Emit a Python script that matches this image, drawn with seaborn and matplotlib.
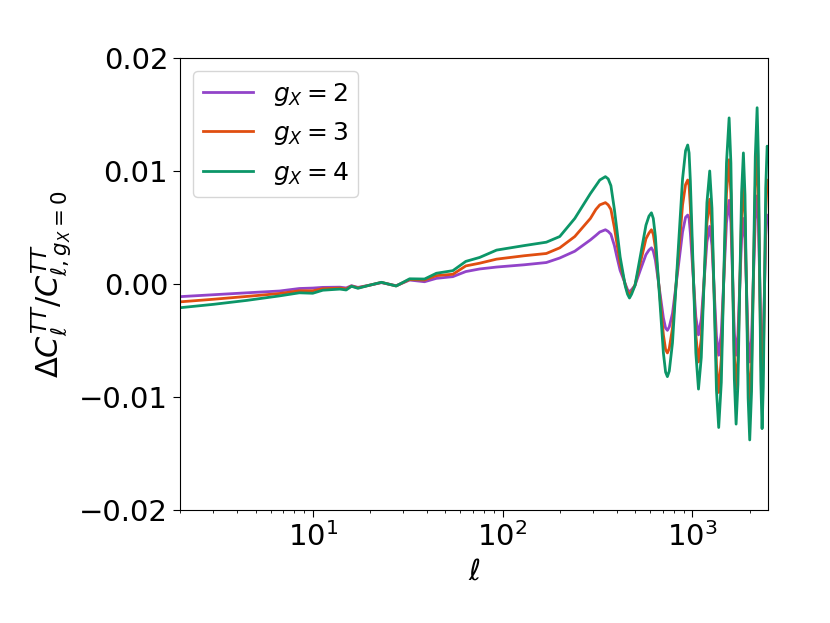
import pandas as pd
import numpy as np
import matplotlib
matplotlib.use("Agg")
import matplotlib.pyplot as plt
import seaborn as sns

# ======================
# Values
# ======================
ell = [2, 3, 4.5, 6.7, 8.5, 10, 11.3, 13.9, 15, 16, 17.3, 20, 23, 27.5, 32.4,
       38.8, 44.8, 54.7, 64, 75.7, 93, 130, 170, 200, 240, 290, 310, 325, 348,
       360, 372, 388, 400, 416, 443, 455, 466, 478, 498, 532, 569, 590, 608,
       622, 638, 670, 703, 722, 738, 755, 785, 835, 887, 920, 944, 960, 975,
       1008, 1042, 1076, 1113, 1152, 1192, 1233, 1267, 1302, 1338, 1375, 1419,
       1464, 1511, 1560, 1594, 1627, 1662, 1698, 1736, 1774, 1815, 1855, 1891,
       1928, 1965, 2003, 2048, 2094, 2143, 2191, 2224, 2258, 2292, 2327, 2361,
       2398, 2432, 2475, 2500]

ratio_g2 = [-0.00112, -0.00095, -0.00078, -0.00062, -0.0004, -0.00036, -0.0003,
            -0.00028, -0.00035, -0.00015, -0.0003, -0.0001, 0.00012, -0.00015,
            0.00035, 0.0002, 0.0005, 0.00065, 0.0011, 0.00133, 0.0015, 0.0017,
            0.0019, 0.0023, 0.0029, 0.0039, 0.0043, 0.0046, 0.0048, 0.00465,
            0.0044, 0.0034, 0.0024, 0.0012, 0.0, -0.0005, -0.0007, -0.0005,
            -0.00013, 0.00125, 0.0026, 0.0030, 0.0032, 0.0029, 0.0021, -0.00045,
            -0.0030, -0.0039, -0.0041, -0.0038, -0.0026, 0.0010, 0.0046, 0.0059,
            0.0061, 0.0058, 0.0045, 0.0008, -0.0029, -0.0045, -0.0031, 0.0003,
            0.0037, 0.0051, 0.0034, -0.0006, -0.0046, -0.0063, -0.0043, 0.00055,
            0.0054, 0.0074, 0.0054, 0.00055, -0.0043, -0.0063, -0.0045, -0.00025,
            0.0040, 0.0058, 0.0039, -0.00055, -0.0050, -0.0069, -0.0048, 0.00045,
            0.0057, 0.0078, 0.0057, 0.0007, -0.0043, -0.0064, -0.0046, -0.00015,
            0.0043, 0.0061, 0.0060]

ratio_g3 = [-0.00158, -0.00135, -0.0011, -0.00084, -0.0006, -0.0006, -0.00042,
            -0.00036, -0.00044, -0.00018, -0.00034, -0.0001, 0.00014, -0.00017,
            0.0004, 0.00035, 0.00074, 0.00086, 0.0016, 0.00184, 0.0022, 0.0025,
            0.0027, 0.0032, 0.0042, 0.0058, 0.0066, 0.0070, 0.0072, 0.0070,
            0.0066, 0.0050, 0.0036, 0.0018, -0.0001, -0.0007, -0.00096, -0.0007,
            -0.0001, 0.0019, 0.0040, 0.0045, 0.0048, 0.0044, 0.0032, -0.00065,
            -0.0045, -0.0058, -0.0061, -0.0057, -0.0039, 0.00155, 0.0070, 0.0088,
            0.0092, 0.0087, 0.0068, 0.00115, -0.0045, -0.0069, -0.0048, 0.0003,
            0.0054, 0.0075, 0.0050, -0.00105, -0.0071, -0.0096, -0.0066, 0.0007,
            0.0080, 0.0110, 0.0080, 0.00085, -0.0063, -0.0093, -0.0067, -0.0003,
            0.0061, 0.0087, 0.0059, -0.00085, -0.0076, -0.0104, -0.0072, 0.00065,
            0.0085, 0.0117, 0.0085, 0.001, -0.0065, -0.0096, -0.0068, -0.0002,
            0.0064, 0.0092, 0.0090]

ratio_g4 = [-0.0021, -0.0018, -0.00145, -0.00105, -0.00078, -0.00082, -0.00055,
            -0.00045, -0.00053, -0.0002, -0.00038, -0.0001, 0.00015, -0.00018,
            0.00046, 0.00044, 0.00095, 0.00118, 0.0020, 0.00235, 0.0030, 0.0034,
            0.0037, 0.0042, 0.0058, 0.0080, 0.0087, 0.0092, 0.0095, 0.0093,
            0.0087, 0.0066, 0.0048, 0.0024, -0.0002, -0.0009, -0.00124, -0.0009,
            -0.00014, 0.0025, 0.0052, 0.0060, 0.0063, 0.0058, 0.0042, -0.00095,
            -0.0061, -0.0078, -0.0082, -0.0077, -0.0052, 0.0021, 0.0093, 0.0118,
            0.0123, 0.0116, 0.0091, 0.0015, -0.0061, -0.0093, -0.0065, 0.00035,
            0.0072, 0.0100, 0.0067, -0.00135, -0.0094, -0.0127, -0.0087, 0.0010,
            0.0107, 0.0147, 0.0107, 0.00115, -0.0084, -0.0124, -0.0089, -0.0004,
            0.0081, 0.0116, 0.0079, -0.0011, -0.0101, -0.0138, -0.0095, 0.0009,
            0.0113, 0.0156, 0.0114, 0.0014, -0.0086, -0.0128, -0.0091, -0.0003,
            0.0085, 0.0122, 0.0119]

labels = [r"$g_X=2$", r"$g_X=3$", r"$g_X=4$"]
colors = ["#9244c9", "#e04e10", "#0c9668"]

# ======================
# Long-form table
# ======================
df = pd.concat([
    pd.DataFrame({"ell": ell, "ratio": vals, "model": lab})
    for vals, lab in zip([ratio_g2, ratio_g3, ratio_g4], labels)
], ignore_index=True)

# ======================
# Plot
# ======================
fig = plt.figure(figsize=(8.3, 6.23), dpi=100)
ax = fig.add_axes([0.2169, 0.1814, 0.7084, 0.7255])

sns.lineplot(data=df, x="ell", y="ratio", hue="model", hue_order=labels,
             palette=colors, estimator=None, linewidth=2.0, ax=ax)

ax.set_xscale("log")
ax.set_xlim(2, 2500)
ax.set_ylim(-0.02, 0.02)
ax.set_yticks([-0.02, -0.01, 0.0, 0.01, 0.02])
ax.tick_params(axis="both", which="major", labelsize=21, length=5)
ax.set_xlabel(r"$\ell$", fontsize=21)
ax.set_ylabel(r"$\Delta C_\ell^{TT}/C_{\ell,g_X=0}^{TT}$", fontsize=22)

ax.legend(loc="upper left", fontsize=18, handlelength=2.0)

fig.savefig("out.png", dpi=100)
